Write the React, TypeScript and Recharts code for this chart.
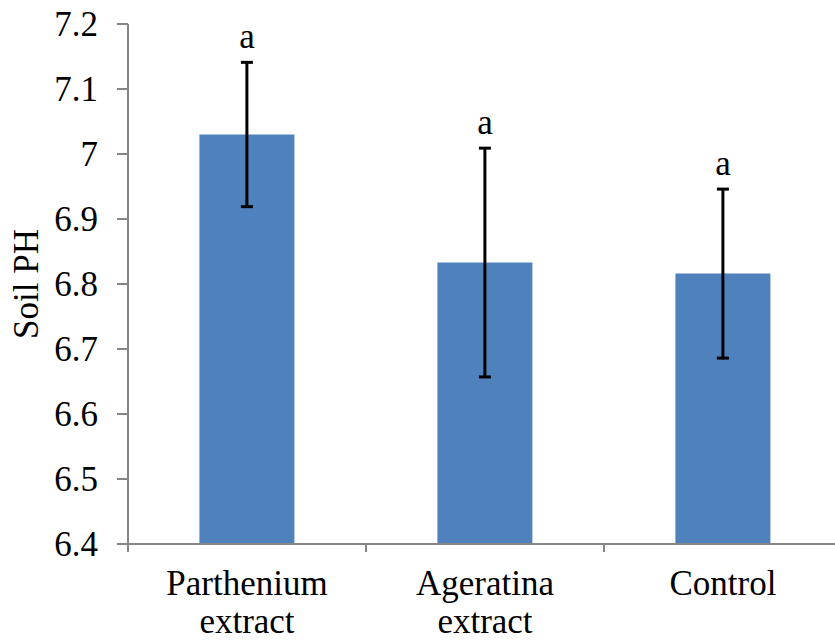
import { ComposedChart, Bar, ErrorBar, Line, LabelList, XAxis, YAxis } from "recharts"

// values
const categories = ["Parthenium extract", "Ageratina extract", "Control"]
const soilPh = [7.03, 6.833, 6.816]
const stdErr = [0.111, 0.176, 0.13]
const letters = ["a", "a", "a"]
const yTicks = [6.4, 6.5, 6.6, 6.7, 6.8, 6.9, 7.0, 7.1, 7.2]

const data = categories.map((name, i) => ({
  name,
  ph: soilPh[i],
  err: stdErr[i],
  top: soilPh[i] + stdErr[i],
  letter: letters[i],
}))

const FONT = '"Liberation Serif", "DejaVu Serif", serif'
const AXIS = "#868686"
const BLUE = "#4F81BD"
const textStyle = { fontFamily: FONT, fontSize: 35, fill: "#000" }

const CategoryTick = (props: any) => {
  const { x, y, payload, index } = props
  const half = payload?.offset || 119
  const lines = String(payload.value).split(" ")
  return (
    <g>
      <line x1={x - half} x2={x - half} y1={y} y2={y + 8} stroke={AXIS} strokeWidth={2} />
      {index === categories.length - 1 && (
        <line x1={x + half} x2={x + half} y1={y} y2={y + 8} stroke={AXIS} strokeWidth={2} />
      )}
      <text x={x} y={y} textAnchor="middle" style={textStyle}>
        {lines.map((l, i) => (
          <tspan key={i} x={x} dy={i === 0 ? 51 : 38}>
            {l}
          </tspan>
        ))}
      </text>
    </g>
  )
}

export default function App() {
  return (
    <div style={{ position: "absolute", left: 0, top: 0, width: 835, height: 642, overflow: "hidden", background: "#fff", fontFamily: FONT }}>
      <ComposedChart width={842} height={642} data={data} margin={{ top: 24, right: 0, left: 0, bottom: 0 }} barCategoryGap="30%">
        <XAxis
          dataKey="name"
          height={98}
          tickLine={false}
          tickSize={0}
          tickMargin={0}
          axisLine={{ stroke: AXIS, strokeWidth: 2 }}
          tick={<CategoryTick />}
          interval={0}
        />
        <YAxis
          width={128}
          domain={[6.4, 7.2]}
          ticks={yTicks}
          interval={0}
          allowDataOverflow
          tickSize={11}
          tickMargin={19}
          tickFormatter={(v) => String(Math.round(v * 10) / 10)}
          tick={{ style: textStyle, fontFamily: FONT, fontSize: 35, fill: "#000" }}
          tickLine={{ stroke: AXIS, strokeWidth: 2 }}
          axisLine={{ stroke: AXIS, strokeWidth: 2 }}
          label={{ value: "Soil PH", angle: -90, position: "center", dx: -38, style: textStyle }}
        />
        <Bar dataKey="ph" fill={BLUE} isAnimationActive={false}>
          <ErrorBar dataKey="err" direction="y" width={6} stroke="#000" strokeWidth={3} />
        </Bar>
        <Line dataKey="top" stroke="none" dot={false} activeDot={false} isAnimationActive={false}>
          <LabelList dataKey="letter" position="top" offset={14} style={textStyle} />
        </Line>
      </ComposedChart>
    </div>
  )
}
